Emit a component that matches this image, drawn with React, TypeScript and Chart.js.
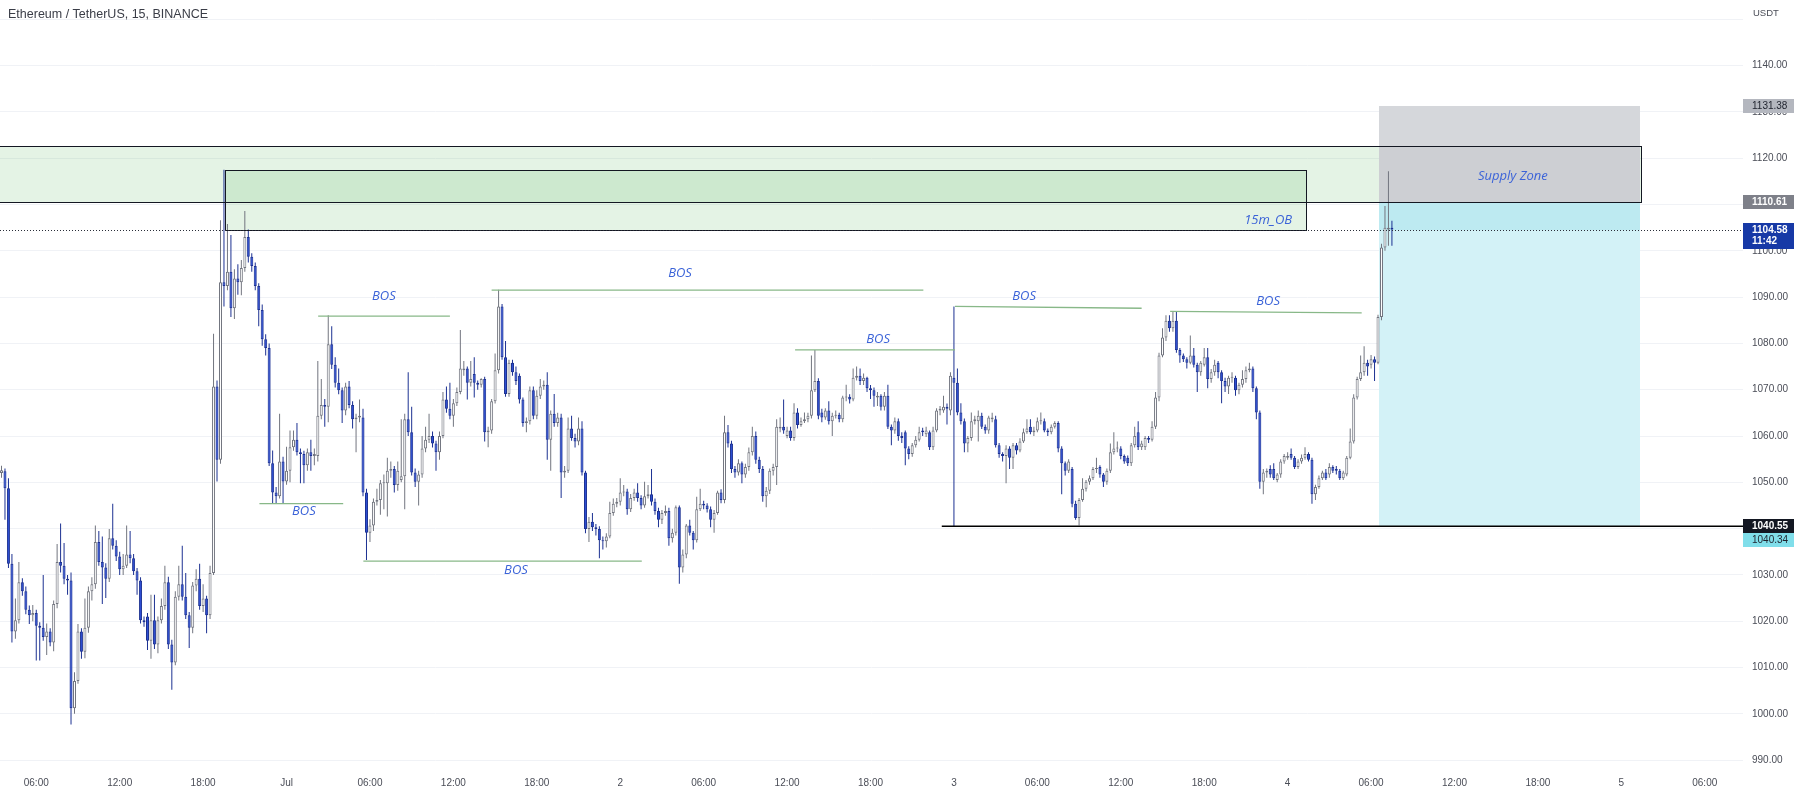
import React, { useEffect, useRef } from 'react';
import { Chart, registerables } from 'chart.js';

Chart.register(...registerables);

// ---------------- DATA (15m candles, ETH/USDT) ----------------
const opens = [
  1052.0, 1052.4, 1048.7, 1032.4, 1017.8, 1020.2, 1028.4, 1026.5, 1022.5, 1021.3,
  1021.8, 1019.0, 1018.6, 1016.6, 1017.8, 1015.4, 1023.7, 1032.8, 1032.0, 1029.2,
  1028.8, 1001.2, 1007.1, 1017.8, 1013.4, 1018.6, 1026.5, 1028.0, 1037.1, 1032.8,
  1031.6, 1029.2, 1037.9, 1036.3, 1034.0, 1031.2, 1032.0, 1034.4, 1033.6, 1030.8,
  1028.8, 1020.2, 1021.0, 1015.8, 1020.2, 1015.0, 1020.2, 1023.3, 1028.4, 1015.0,
  1011.1, 1025.3, 1028.0, 1025.3, 1021.3, 1018.6, 1027.7, 1029.2, 1023.3, 1024.9,
  1021.3, 1030.4, 1070.7, 1054.9, 1093.2, 1092.4, 1095.5, 1087.6, 1094.0, 1093.2,
  1096.3, 1103.0, 1098.7, 1096.7, 1092.4, 1087.2, 1080.9, 1079.0, 1054.1, 1047.8,
  1047.0, 1054.5, 1050.2, 1052.5, 1057.6, 1059.2, 1056.5, 1056.1, 1053.7, 1056.5,
  1055.7, 1055.7, 1064.4, 1066.7, 1066.3, 1079.8, 1075.4, 1071.5, 1069.9, 1065.5,
  1070.7, 1066.7, 1063.6, 1064.0, 1064.0, 1047.8, 1039.1, 1040.7, 1045.8, 1046.2,
  1049.8, 1049.8, 1052.5, 1052.9, 1049.4, 1050.5, 1051.3, 1063.6, 1060.8, 1052.1,
  1050.1, 1051.7, 1057.3, 1059.2, 1060.0, 1058.4, 1056.5, 1060.0, 1067.9, 1065.9,
  1064.4, 1067.1, 1069.5, 1074.2, 1074.6, 1071.5, 1073.4, 1071.5, 1071.1, 1072.3,
  1060.8, 1061.2, 1067.5, 1074.2, 1088.0, 1077.0, 1069.1, 1075.8, 1073.8, 1073.0,
  1067.9, 1062.8, 1063.2, 1069.9, 1064.4, 1068.7, 1070.7, 1071.1, 1059.2, 1064.8,
  1062.8, 1064.0, 1052.1, 1052.5, 1061.6, 1059.6, 1058.8, 1061.6, 1052.1, 1039.9,
  1041.5, 1040.3, 1039.9, 1037.5, 1037.3, 1038.3, 1043.4, 1045.4, 1045.8, 1047.8,
  1048.0, 1044.2, 1046.6, 1047.8, 1046.6, 1045.0, 1047.0, 1047.4, 1045.8, 1043.8,
  1041.9, 1043.4, 1043.8, 1037.9, 1039.1, 1044.6, 1031.6, 1034.4, 1040.7, 1039.1,
  1037.5, 1044.2, 1045.4, 1045.0, 1044.2, 1041.9, 1043.4, 1047.8, 1046.2, 1060.8,
  1058.4, 1052.9, 1052.1, 1054.1, 1051.7, 1053.3, 1056.5, 1060.0, 1054.9, 1052.9,
  1047.0, 1048.2, 1052.5, 1053.3, 1061.6, 1062.0, 1060.0, 1061.2, 1059.6, 1065.1,
  1062.4, 1063.2, 1063.6, 1064.4, 1069.9, 1071.9, 1065.1, 1064.0, 1065.5, 1063.2,
  1064.4, 1064.6, 1063.6, 1068.3, 1068.5, 1067.9, 1072.6, 1073.0, 1071.9, 1072.6,
  1070.3, 1069.9, 1068.3, 1068.7, 1066.3, 1068.7, 1062.0, 1061.2, 1063.2, 1060.0,
  1060.8, 1057.3, 1056.1, 1058.0, 1059.2, 1061.2, 1060.4, 1060.8, 1057.6, 1061.2,
  1065.5, 1065.5, 1066.3, 1065.5, 1072.6, 1071.5, 1065.1, 1063.2, 1058.4, 1059.6,
  1063.2, 1063.2, 1064.4, 1062.0, 1061.2, 1063.6, 1063.6, 1058.0, 1056.1, 1055.7,
  1057.3, 1055.3, 1058.0, 1056.9, 1058.8, 1060.8, 1062.0, 1060.8, 1061.2, 1063.2,
  1063.2, 1061.2, 1060.8, 1062.0, 1062.8, 1057.3, 1054.1, 1052.5, 1052.9, 1045.4,
  1042.3, 1046.2, 1048.6, 1050.1, 1050.9, 1052.9, 1053.3, 1051.7, 1050.1, 1052.5,
  1056.5, 1057.3, 1057.3, 1055.7, 1055.3, 1054.1, 1058.0, 1060.8, 1057.6, 1057.6,
  1059.6, 1059.2, 1062.0, 1068.3, 1077.4, 1081.3, 1084.9, 1083.3, 1084.9, 1078.6,
  1077.4, 1076.6, 1075.8, 1077.4, 1075.4, 1073.8, 1075.4, 1077.0, 1072.3, 1073.8,
  1075.8, 1073.8, 1071.9, 1070.7, 1072.6, 1072.6, 1069.9, 1071.1, 1072.3, 1074.2,
  1074.6, 1070.3, 1065.1, 1050.1, 1052.1, 1052.9, 1052.9, 1050.5, 1051.7, 1054.5,
  1055.3, 1056.1, 1055.3, 1053.3, 1054.5, 1055.3, 1056.1, 1054.9, 1047.4, 1049.0,
  1050.9, 1052.1, 1051.7, 1053.3, 1052.9, 1052.5, 1050.9, 1051.7, 1055.3, 1058.8,
  1068.3, 1072.3, 1073.8, 1075.8, 1075.4, 1076.6, 1075.8, 1085.7, 1100.7, 1104.6,
  1105.0,
];

const highs = [
  1053.6, 1053.0, 1050.9, 1034.5, 1024.9, 1032.8, 1029.3, 1027.5, 1023.4, 1023.5,
  1022.5, 1019.8, 1030.0, 1019.5, 1018.5, 1024.5, 1036.7, 1041.1, 1036.9, 1030.0,
  1030.5, 1009.0, 1019.4, 1018.5, 1024.9, 1027.5, 1029.5, 1040.7, 1039.5, 1038.3,
  1032.5, 1039.9, 1045.4, 1037.5, 1035.0, 1034.5, 1040.7, 1039.5, 1034.5, 1031.5,
  1029.5, 1021.0, 1021.8, 1025.7, 1025.7, 1021.0, 1024.9, 1032.0, 1029.6, 1016.0,
  1026.5, 1032.0, 1036.3, 1030.4, 1022.0, 1028.5, 1031.2, 1032.4, 1028.0, 1025.5,
  1032.0, 1082.1, 1072.0, 1106.6, 1117.5, 1105.8, 1103.4, 1096.0, 1097.1, 1098.0,
  1108.6, 1104.6, 1099.5, 1097.5, 1093.0, 1088.4, 1082.0, 1080.0, 1056.9, 1049.0,
  1064.8, 1055.5, 1057.7, 1061.2, 1061.2, 1062.8, 1057.3, 1056.8, 1057.3, 1059.2,
  1057.3, 1076.2, 1072.3, 1068.0, 1086.1, 1083.7, 1077.0, 1074.6, 1070.5, 1071.5,
  1071.9, 1067.5, 1064.8, 1067.9, 1065.9, 1048.6, 1042.0, 1046.5, 1048.6, 1050.5,
  1051.7, 1055.3, 1054.5, 1053.5, 1054.5, 1063.6, 1064.8, 1073.8, 1066.3, 1053.0,
  1052.5, 1060.0, 1062.0, 1064.8, 1061.0, 1059.0, 1061.0, 1069.5, 1070.7, 1071.5,
  1068.0, 1070.5, 1082.9, 1076.2, 1075.0, 1076.2, 1077.0, 1072.0, 1072.5, 1072.8,
  1062.0, 1068.0, 1077.8, 1091.6, 1088.5, 1080.5, 1076.5, 1076.5, 1075.0, 1073.5,
  1068.3, 1064.0, 1070.7, 1070.7, 1069.9, 1072.3, 1072.0, 1073.8, 1065.5, 1069.1,
  1065.0, 1064.8, 1053.5, 1064.0, 1064.4, 1060.5, 1064.0, 1063.2, 1052.5, 1042.5,
  1043.4, 1041.0, 1040.5, 1038.3, 1039.0, 1045.8, 1046.5, 1046.6, 1050.9, 1049.4,
  1048.6, 1047.5, 1048.6, 1049.8, 1047.2, 1050.1, 1049.4, 1052.9, 1046.5, 1044.5,
  1044.0, 1045.0, 1044.5, 1040.0, 1045.0, 1045.0, 1035.5, 1041.0, 1041.9, 1039.5,
  1046.9, 1048.6, 1046.0, 1045.5, 1044.8, 1044.0, 1048.2, 1048.5, 1064.4, 1062.4,
  1059.0, 1053.5, 1055.0, 1054.5, 1054.0, 1057.5, 1062.0, 1061.0, 1055.5, 1053.5,
  1049.0, 1053.0, 1054.0, 1063.6, 1064.0, 1067.9, 1062.0, 1062.0, 1067.1, 1066.0,
  1064.0, 1065.1, 1065.0, 1077.4, 1078.6, 1072.5, 1065.9, 1066.0, 1067.5, 1065.0,
  1065.5, 1065.0, 1068.7, 1071.1, 1069.0, 1074.6, 1075.0, 1074.6, 1073.5, 1072.8,
  1071.0, 1070.5, 1069.5, 1069.0, 1069.5, 1071.1, 1062.5, 1064.0, 1063.8, 1060.8,
  1061.2, 1057.8, 1058.5, 1060.0, 1062.0, 1061.8, 1062.0, 1061.2, 1062.0, 1066.0,
  1066.5, 1068.7, 1067.0, 1073.8, 1088.0, 1074.6, 1067.1, 1063.8, 1060.0, 1065.1,
  1064.4, 1065.5, 1065.0, 1062.5, 1064.4, 1065.0, 1064.4, 1058.5, 1056.5, 1058.0,
  1057.8, 1058.5, 1058.5, 1059.5, 1061.6, 1063.6, 1063.6, 1062.0, 1064.0, 1065.1,
  1063.8, 1061.6, 1062.5, 1063.2, 1063.2, 1057.8, 1054.5, 1055.0, 1053.3, 1046.0,
  1046.6, 1050.9, 1050.5, 1051.5, 1053.3, 1055.3, 1053.7, 1052.0, 1053.0, 1058.4,
  1060.8, 1058.8, 1057.8, 1056.0, 1055.8, 1058.5, 1062.0, 1063.2, 1059.0, 1060.0,
  1060.0, 1063.2, 1069.5, 1078.0, 1083.3, 1086.1, 1086.1, 1086.9, 1086.9, 1079.0,
  1077.8, 1077.0, 1081.7, 1079.0, 1075.8, 1076.2, 1079.0, 1079.0, 1074.5, 1076.5,
  1076.2, 1074.2, 1072.6, 1073.0, 1073.8, 1073.0, 1071.5, 1074.2, 1075.0, 1075.8,
  1075.0, 1070.7, 1065.5, 1052.9, 1053.0, 1053.7, 1054.1, 1052.0, 1055.0, 1056.1,
  1056.5, 1057.3, 1055.7, 1055.0, 1056.0, 1057.6, 1056.5, 1055.3, 1049.5, 1051.5,
  1052.5, 1052.9, 1054.1, 1053.7, 1053.5, 1052.9, 1052.5, 1055.7, 1061.6, 1069.0,
  1072.8, 1077.4, 1079.4, 1076.5, 1077.5, 1077.2, 1086.2, 1101.5, 1109.7, 1117.2,
  1106.5,
];

const lows = [
  1051.0, 1041.9, 1031.5, 1015.4, 1016.2, 1019.5, 1025.5, 1021.5, 1019.4, 1020.0,
  1011.5, 1011.5, 1015.8, 1012.7, 1014.6, 1013.5, 1022.8, 1030.5, 1028.0, 1025.7,
  997.7, 1000.0, 1006.5, 1011.9, 1012.0, 1017.5, 1024.5, 1027.0, 1032.0, 1023.7,
  1025.0, 1028.5, 1035.5, 1033.0, 1030.0, 1030.0, 1031.5, 1032.5, 1030.0, 1025.7,
  1019.5, 1018.8, 1013.8, 1011.9, 1014.0, 1013.1, 1019.5, 1022.5, 1014.0, 1005.2,
  1010.5, 1024.5, 1024.5, 1020.5, 1014.2, 1017.4, 1026.5, 1022.5, 1022.0, 1017.4,
  1020.5, 1030.0, 1050.2, 1054.0, 1088.0, 1091.5, 1085.7, 1085.3, 1090.5, 1090.4,
  1095.5, 1097.5, 1095.5, 1091.5, 1083.7, 1079.5, 1077.4, 1053.5, 1045.4, 1045.4,
  1046.5, 1045.4, 1049.5, 1050.0, 1056.8, 1055.8, 1049.8, 1049.8, 1052.5, 1052.5,
  1053.7, 1054.5, 1063.6, 1062.0, 1063.0, 1074.5, 1070.5, 1069.0, 1062.8, 1064.5,
  1066.0, 1061.6, 1056.5, 1063.0, 1047.0, 1033.2, 1037.1, 1039.5, 1045.0, 1043.0,
  1044.2, 1042.6, 1051.0, 1047.8, 1048.2, 1050.0, 1044.2, 1060.0, 1051.5, 1049.0,
  1045.0, 1051.0, 1056.5, 1058.5, 1057.5, 1052.5, 1054.9, 1059.5, 1065.0, 1063.6,
  1062.0, 1066.5, 1069.0, 1073.0, 1067.9, 1070.7, 1068.3, 1070.0, 1070.5, 1058.8,
  1057.6, 1060.5, 1067.0, 1073.5, 1076.5, 1068.5, 1068.5, 1073.0, 1071.0, 1067.0,
  1062.0, 1060.8, 1062.5, 1063.6, 1063.6, 1068.0, 1070.0, 1054.9, 1052.5, 1062.0,
  1062.0, 1046.6, 1051.0, 1052.0, 1059.0, 1057.5, 1058.0, 1051.5, 1039.0, 1037.1,
  1039.5, 1038.5, 1033.6, 1035.5, 1035.9, 1037.9, 1042.8, 1044.6, 1045.0, 1047.0,
  1043.0, 1043.6, 1046.0, 1045.8, 1044.2, 1044.5, 1046.5, 1045.0, 1043.0, 1040.3,
  1041.0, 1042.8, 1036.3, 1037.0, 1038.5, 1028.1, 1030.5, 1033.6, 1038.5, 1035.5,
  1037.0, 1043.8, 1044.2, 1043.5, 1040.3, 1039.1, 1043.0, 1045.5, 1045.5, 1057.5,
  1052.0, 1051.0, 1051.5, 1049.8, 1051.0, 1052.5, 1055.8, 1054.0, 1052.0, 1045.8,
  1044.6, 1047.5, 1051.5, 1049.4, 1060.8, 1060.5, 1059.5, 1059.0, 1059.0, 1061.6,
  1062.0, 1062.8, 1063.0, 1063.8, 1069.5, 1063.6, 1063.0, 1063.5, 1062.5, 1060.0,
  1063.8, 1063.0, 1063.0, 1067.5, 1067.0, 1067.5, 1072.0, 1071.0, 1071.0, 1069.5,
  1068.0, 1066.3, 1066.5, 1065.5, 1065.5, 1061.5, 1058.0, 1060.5, 1059.0, 1058.5,
  1053.7, 1055.0, 1055.5, 1057.5, 1058.8, 1060.0, 1059.8, 1057.0, 1057.0, 1060.8,
  1064.5, 1065.0, 1062.5, 1064.5, 1040.4, 1064.5, 1062.5, 1056.5, 1056.5, 1059.0,
  1062.5, 1058.8, 1061.5, 1060.5, 1060.5, 1063.0, 1057.5, 1055.3, 1054.5, 1049.8,
  1052.9, 1052.9, 1056.0, 1056.5, 1058.5, 1060.5, 1060.4, 1060.0, 1060.8, 1062.5,
  1060.8, 1060.0, 1060.4, 1061.6, 1056.5, 1047.4, 1051.5, 1052.0, 1044.6, 1041.9,
  1040.7, 1045.8, 1048.0, 1049.5, 1050.5, 1052.0, 1051.0, 1049.0, 1049.5, 1052.0,
  1056.0, 1056.5, 1055.0, 1054.0, 1053.5, 1053.5, 1057.5, 1057.0, 1057.0, 1057.0,
  1058.5, 1058.8, 1061.5, 1067.5, 1077.0, 1080.5, 1082.5, 1082.5, 1078.0, 1075.8,
  1076.0, 1074.6, 1075.5, 1074.8, 1069.5, 1073.0, 1075.0, 1070.3, 1071.5, 1073.0,
  1072.5, 1067.1, 1069.5, 1069.1, 1071.5, 1068.7, 1069.0, 1070.5, 1071.5, 1073.8,
  1069.5, 1063.6, 1048.6, 1047.4, 1051.0, 1051.0, 1050.5, 1050.0, 1051.0, 1054.0,
  1054.9, 1054.9, 1052.9, 1052.9, 1054.0, 1054.9, 1054.5, 1045.4, 1046.2, 1048.6,
  1050.5, 1050.5, 1051.0, 1052.0, 1051.7, 1050.5, 1050.5, 1051.3, 1055.0, 1058.4,
  1067.9, 1071.9, 1073.0, 1073.0, 1074.6, 1071.9, 1075.5, 1085.0, 1100.0, 1101.1,
  1101.1,
];

const closes = [
  1052.6, 1048.7, 1032.4, 1017.8, 1020.2, 1028.4, 1026.5, 1022.5, 1021.3, 1021.8,
  1019.0, 1018.6, 1016.6, 1017.8, 1015.4, 1023.7, 1032.8, 1032.0, 1029.2, 1028.8,
  1001.2, 1007.1, 1017.8, 1013.4, 1018.6, 1026.5, 1028.0, 1037.1, 1032.8, 1031.6,
  1029.2, 1037.9, 1036.3, 1034.0, 1031.2, 1032.0, 1034.4, 1033.6, 1030.8, 1028.8,
  1020.2, 1019.8, 1015.8, 1020.2, 1015.0, 1020.2, 1023.3, 1028.4, 1015.0, 1011.1,
  1025.3, 1028.0, 1025.3, 1021.3, 1018.6, 1027.7, 1029.2, 1023.3, 1024.9, 1021.3,
  1030.4, 1070.7, 1054.9, 1093.2, 1092.4, 1095.5, 1087.6, 1094.0, 1093.2, 1096.3,
  1103.0, 1098.7, 1096.7, 1092.4, 1087.2, 1080.9, 1079.0, 1054.1, 1047.8, 1047.0,
  1054.5, 1050.2, 1052.5, 1057.6, 1059.2, 1056.5, 1056.1, 1053.7, 1056.5, 1055.7,
  1056.1, 1064.4, 1066.7, 1066.3, 1079.8, 1075.4, 1071.5, 1069.9, 1065.5, 1070.7,
  1066.7, 1063.6, 1064.0, 1064.4, 1047.8, 1039.1, 1040.7, 1045.8, 1046.2, 1049.8,
  1050.0, 1052.5, 1052.9, 1049.4, 1052.5, 1051.3, 1063.6, 1060.8, 1052.1, 1050.1,
  1051.7, 1057.3, 1059.2, 1060.0, 1058.4, 1056.5, 1060.0, 1067.9, 1065.9, 1064.4,
  1067.1, 1069.5, 1074.6, 1074.6, 1071.5, 1072.3, 1071.5, 1071.1, 1072.3, 1060.8,
  1061.2, 1067.5, 1074.2, 1088.0, 1077.0, 1069.1, 1075.8, 1073.8, 1071.9, 1067.9,
  1062.8, 1063.2, 1069.9, 1064.4, 1068.7, 1070.7, 1071.1, 1059.2, 1064.8, 1062.8,
  1064.0, 1052.1, 1052.5, 1061.6, 1059.6, 1058.8, 1061.6, 1052.1, 1039.9, 1041.5,
  1040.3, 1039.9, 1037.5, 1037.3, 1038.3, 1043.4, 1045.4, 1045.8, 1047.8, 1048.0,
  1044.2, 1046.6, 1047.8, 1046.6, 1045.0, 1047.0, 1047.4, 1045.8, 1043.8, 1041.9,
  1043.4, 1043.8, 1037.9, 1039.1, 1044.6, 1031.6, 1034.4, 1040.7, 1039.1, 1037.5,
  1044.2, 1045.4, 1045.0, 1044.2, 1041.9, 1043.4, 1047.8, 1046.2, 1060.8, 1058.4,
  1052.9, 1052.1, 1054.1, 1051.7, 1053.3, 1056.5, 1060.0, 1054.9, 1052.9, 1047.0,
  1048.2, 1052.5, 1053.3, 1062.0, 1062.0, 1061.2, 1061.2, 1059.6, 1065.1, 1062.4,
  1063.2, 1063.6, 1064.4, 1069.9, 1071.9, 1064.4, 1064.0, 1065.5, 1063.2, 1064.4,
  1064.6, 1063.6, 1068.3, 1068.5, 1067.9, 1072.6, 1073.0, 1071.9, 1072.6, 1070.3,
  1069.9, 1068.7, 1068.7, 1066.3, 1068.7, 1062.0, 1061.2, 1063.2, 1060.0, 1059.6,
  1057.3, 1056.1, 1058.0, 1059.2, 1060.8, 1060.8, 1061.2, 1057.6, 1061.2, 1065.5,
  1065.9, 1066.3, 1065.9, 1073.0, 1071.5, 1065.1, 1063.2, 1058.4, 1059.6, 1063.2,
  1063.6, 1064.4, 1062.0, 1061.2, 1064.0, 1064.0, 1058.0, 1056.1, 1055.7, 1057.3,
  1055.3, 1058.0, 1056.9, 1058.8, 1060.8, 1061.6, 1060.8, 1061.2, 1063.2, 1063.4,
  1061.2, 1060.8, 1062.0, 1062.8, 1057.3, 1054.1, 1052.5, 1054.5, 1045.4, 1042.3,
  1046.2, 1048.6, 1050.1, 1050.9, 1052.9, 1053.1, 1051.7, 1050.1, 1052.5, 1056.5,
  1057.3, 1057.5, 1055.7, 1054.5, 1054.1, 1058.0, 1060.0, 1057.6, 1058.4, 1059.6,
  1059.2, 1062.0, 1068.3, 1077.4, 1081.3, 1084.9, 1083.3, 1084.9, 1078.6, 1077.4,
  1076.6, 1075.8, 1077.4, 1075.4, 1073.8, 1075.8, 1077.0, 1072.3, 1073.8, 1075.4,
  1073.8, 1071.9, 1070.7, 1072.6, 1072.8, 1069.9, 1071.1, 1072.3, 1074.2, 1074.6,
  1070.3, 1065.1, 1050.1, 1052.1, 1052.5, 1051.7, 1050.9, 1051.7, 1054.5, 1055.7,
  1055.7, 1055.3, 1053.3, 1054.5, 1055.3, 1056.1, 1054.9, 1047.4, 1049.0, 1050.9,
  1052.1, 1050.9, 1053.3, 1052.5, 1052.5, 1050.9, 1052.1, 1055.3, 1058.8, 1068.3,
  1072.3, 1073.8, 1075.8, 1075.0, 1076.6, 1075.8, 1085.7, 1100.7, 1105.0, 1105.0,
  1104.58,
];

// time axis (bar index of first label, bars per 6h label step)
const timeTickLabels = ['06:00', '12:00', '18:00', 'Jul', '06:00', '12:00', '18:00', '2', '06:00', '12:00', '18:00', '3', '06:00', '12:00', '18:00', '4', '06:00', '12:00', '18:00', '5', '06:00'];
const FIRST_TICK_BAR = 10;
const BARS_PER_TICK = 24;

// price axis
const priceTicks = [990, 1000, 1010, 1020, 1030, 1040, 1050, 1060, 1070, 1080, 1090, 1100, 1110, 1120, 1130, 1140, 1150];
const hiddenPriceTicks = [1150];

// drawings (bar index, price)
const demandZone = { from: -5, to: 471.6, low: 1110.61, high: 1122.7 };
const orderBlock = { from: 64.2, to: 375.3, low: 1104.6, high: 1117.5 };
const supplyZone = { from: 396.3, to: 471.4, low: 1110.61, high: 1131.38 };
const targetZone = { from: 396.3, to: 471.4, low: 1040.55, high: 1110.61 };
const lastPrice = 1104.58;
const countdown = '11:42';
const supportLine = { from: 270.5, price: 1040.55 };
const altPrice = 1040.34;

const bosFrom = [74.2, 91.1, 104.1, 141.0, 228.3, 274.3, 336.2];
const bosTo = [98.3, 129.0, 184.2, 265.2, 274.3, 328.0, 391.3];
const bosFromPrice = [1045.4, 1085.9, 1033.0, 1091.5, 1078.6, 1088.0, 1086.9];
const bosToPrice = [1045.4, 1085.9, 1033.0, 1091.5, 1078.6, 1087.6, 1086.6];
const bosTextBar = [87.0, 110.0, 148.0, 195.2, 252.2, 294.2, 364.4];
const bosTextPrice = [1043.7, 1090.2, 1031.1, 1095.2, 1080.9, 1090.2, 1089.0];

const obLabel = { bar: 364.4, price: 1106.6, text: '15m_OB' };
const supplyLabel = { bar: 434.8, price: 1116.0, text: 'Supply Zone' };

const TITLE = 'Ethereum / TetherUS, 15, BINANCE';
const CURRENCY = 'USDT';

// ---------------- RENDER ----------------
const W = 1797;
const H = 798;
const X_MIN = -0.4315;
const X_MAX = 501.0;
const Y_MIN = 987.87;
const Y_MAX = 1154.17;

const UP_FILL = '#ffffff';
const UP_LINE = '#72757f';
const DN_FILL = '#2f50d4';
const DN_LINE = '#1c3192';
const TEXT_BLUE = '#3b63d8';
const AXIS_TEXT = '#4a4d57';
const FONT = '"Liberation Sans", Arial, sans-serif';

const overlayPlugin = {
  id: 'tvOverlay',
  beforeDatasetsDraw(chart: any) {
    const { ctx, chartArea: ca, scales } = chart;
    const X = (v: number) => scales.x.getPixelForValue(v);
    const Y = (v: number) => scales.y.getPixelForValue(v);
    ctx.save();
    ctx.beginPath();
    ctx.rect(ca.left, ca.top, ca.right - ca.left, ca.bottom - ca.top);
    ctx.clip();
    const fill = (from: number, to: number, lo: number, hi: number, color: string) => {
      const x0 = Math.round(X(from));
      const x1 = Math.round(X(to));
      const y0 = Math.round(Y(hi));
      const y1 = Math.round(Y(lo));
      ctx.fillStyle = color;
      ctx.fillRect(x0, y0, x1 - x0, y1 - y0);
    };
    fill(demandZone.from, demandZone.to, demandZone.low, demandZone.high, 'rgba(76,175,80,0.15)');
    fill(orderBlock.from, orderBlock.to, orderBlock.low, orderBlock.high, 'rgba(76,175,80,0.15)');
    fill(supplyZone.from, supplyZone.to, supplyZone.low, supplyZone.high, '#d5d7db');
    fill(supplyZone.from, supplyZone.to, supplyZone.low, demandZone.high, 'rgba(60,64,80,0.05)');
    fill(targetZone.from, targetZone.to, targetZone.low, lastPrice, '#d3f2f7');
    fill(targetZone.from, targetZone.to, lastPrice, targetZone.high, '#bdeaf1');
    ctx.restore();
  },
  afterDatasetsDraw(chart: any) {
    const { ctx, chartArea: ca, scales } = chart;
    const X = (v: number) => scales.x.getPixelForValue(v);
    const Y = (v: number) => scales.y.getPixelForValue(v);
    const cr = (v: number) => Math.round(v) + 0.5;
    ctx.save();
    ctx.beginPath();
    ctx.rect(ca.left, ca.top, ca.right - ca.left, ca.bottom - ca.top);
    ctx.clip();

    // rectangle borders
    ctx.strokeStyle = '#131722';
    ctx.lineWidth = 1;
    const box = (z: any) => {
      const x0 = cr(X(z.from));
      const x1 = cr(X(z.to));
      const y0 = cr(Y(z.high));
      const y1 = cr(Y(z.low));
      ctx.strokeRect(x0, y0, x1 - x0, y1 - y0);
    };
    box(demandZone);
    box(orderBlock);

    // BOS lines
    ctx.strokeStyle = '#88b888';
    ctx.lineWidth = 1.3;
    for (let i = 0; i < bosFrom.length; i++) {
      ctx.beginPath();
      ctx.moveTo(X(bosFrom[i]), Y(bosFromPrice[i]));
      ctx.lineTo(X(bosTo[i]), Y(bosToPrice[i]));
      ctx.stroke();
    }

    // support line
    ctx.strokeStyle = '#000000';
    ctx.lineWidth = 1.5;
    ctx.beginPath();
    const sy = Math.round(Y(supportLine.price)) + 0.25;
    ctx.moveTo(X(supportLine.from), sy);
    ctx.lineTo(ca.right, sy);
    ctx.stroke();

    // last price dotted line
    ctx.strokeStyle = '#2a2e39';
    ctx.lineWidth = 1;
    ctx.setLineDash([1, 2]);
    ctx.beginPath();
    const ly = cr(Y(lastPrice));
    ctx.moveTo(ca.left, ly);
    ctx.lineTo(ca.right, ly);
    ctx.stroke();
    ctx.setLineDash([]);

    // texts
    ctx.fillStyle = TEXT_BLUE;
    ctx.font = 'italic 13px "Open Sans", "DejaVu Sans", sans-serif';
    ctx.textAlign = 'center';
    ctx.textBaseline = 'middle';
    for (let i = 0; i < bosTextBar.length; i++) {
      ctx.fillText('BOS', X(bosTextBar[i]), Y(bosTextPrice[i]));
    }
    ctx.fillText(obLabel.text, X(obLabel.bar), Y(obLabel.price));
    ctx.fillText(supplyLabel.text, X(supplyLabel.bar), Y(supplyLabel.price));
    ctx.restore();
  },
  afterDraw(chart: any) {
    const { ctx, chartArea: ca, scales } = chart;
    const Y = (v: number) => scales.y.getPixelForValue(v);
    ctx.save();
    // title
    ctx.font = '12.5px ' + FONT;
    ctx.fillStyle = '#3a3d47';
    ctx.textAlign = 'left';
    ctx.textBaseline = 'middle';
    ctx.fillText(TITLE, 8, 15);
    // currency
    ctx.font = '9.5px ' + FONT;
    ctx.fillStyle = AXIS_TEXT;
    ctx.fillText(CURRENCY, ca.right + 10, 13);

    const bx = ca.right;
    const bw = 51;
    const marker = (cy: number, lines: string[], bg: string, fg: string, bold: boolean) => {
      const hgt = lines.length === 1 ? 14 : 26;
      const top = Math.round(cy - 7);
      ctx.fillStyle = bg;
      ctx.fillRect(bx, top, bw, hgt);
      ctx.fillStyle = fg;
      ctx.font = (bold ? 'bold ' : '') + '10px ' + FONT;
      ctx.textBaseline = 'middle';
      ctx.textAlign = 'left';
      lines.forEach((t, k) => ctx.fillText(t, bx + 9, top + 7 + k * 11.5));
    };
    marker(Y(supplyZone.high), [supplyZone.high.toFixed(2)], '#b4b7bf', '#1e222d', false);
    marker(Y(supplyZone.low), [supplyZone.low.toFixed(2)], '#7e8089', '#ffffff', true);
    marker(Y(lastPrice), [lastPrice.toFixed(2), countdown], '#1739a6', '#ffffff', true);
    const sy = Y(supportLine.price);
    marker(sy, [supportLine.price.toFixed(2)], '#131722', '#ffffff', true);
    marker(sy + 14, [altPrice.toFixed(2)], '#80deea', '#1e222d', false);
    ctx.restore();
  },
};

export default function App() {
  const canvasRef = useRef<HTMLCanvasElement | null>(null);

  useEffect(() => {
    const canvas = canvasRef.current;
    if (!canvas) return;
    const n = opens.length;
    const bodyData: any[] = [];
    const wickData: any[] = [];
    const bodyFill: string[] = [];
    const bodyLine: string[] = [];
    const wickColor: string[] = [];
    for (let i = 0; i < n; i++) {
      const o = opens[i];
      const c = closes[i];
      const up = c >= o;
      bodyData.push({ x: i, y: [Math.min(o, c), Math.max(o, c)] });
      wickData.push({ x: i, y: [Math.min(lows[i], o, c), Math.max(highs[i], o, c)] });
      bodyFill.push(up ? UP_FILL : DN_FILL);
      bodyLine.push(up ? UP_LINE : DN_LINE);
      wickColor.push(up ? UP_LINE : DN_LINE);
    }

    const chart = new Chart(canvas, {
      type: 'bar',
      data: {
        datasets: [
          {
            label: 'body',
            data: bodyData,
            backgroundColor: bodyFill,
            borderColor: bodyLine,
            borderWidth: 1,
            borderSkipped: false,
            barThickness: 3,
            minBarLength: 1,
            inflateAmount: 0,
            grouped: false,
            order: 0,
          } as any,
          {
            label: 'wick',
            data: wickData,
            backgroundColor: wickColor,
            borderWidth: 0,
            barThickness: 1,
            minBarLength: 1,
            inflateAmount: 0,
            grouped: false,
            order: 1,
          } as any,
        ],
      },
      options: {
        responsive: false,
        devicePixelRatio: 1,
        animation: false,
        events: [],
        layout: { padding: 0 },
        plugins: { legend: { display: false }, tooltip: { enabled: false } },
        scales: {
          x: {
            type: 'linear',
            min: X_MIN,
            max: X_MAX,
            offset: false,
            grid: { display: false, drawTicks: false, offset: false },
            border: { display: false },
            ticks: {
              autoSkip: false,
              maxRotation: 0,
              minRotation: 0,
              padding: 7,
              color: AXIS_TEXT,
              font: { family: FONT, size: 10 },
              callback: (_v: any, idx: number) => timeTickLabels[idx] ?? '',
            },
            afterBuildTicks: (scale: any) => {
              scale.ticks = timeTickLabels.map((_, k) => ({ value: FIRST_TICK_BAR + k * BARS_PER_TICK }));
            },
            afterFit: (scale: any) => {
              scale.height = 28;
              scale.paddingLeft = 0;
              scale.paddingRight = 0;
            },
          } as any,
          y: {
            type: 'linear',
            position: 'right',
            min: Y_MIN,
            max: Y_MAX,
            grid: { color: '#f0f2f6', drawTicks: false, lineWidth: 1 },
            border: { display: false },
            ticks: {
              padding: 9,
              color: AXIS_TEXT,
              font: { family: FONT, size: 10 },
              callback: (v: any) => (hiddenPriceTicks.includes(Number(v)) ? '' : Number(v).toFixed(2)),
            },
            afterBuildTicks: (scale: any) => {
              scale.ticks = priceTicks.map((v) => ({ value: v }));
            },
            afterFit: (scale: any) => {
              scale.width = 54;
              scale.paddingTop = 0;
              scale.paddingBottom = 0;
            },
          } as any,
        },
      },
      plugins: [overlayPlugin],
    });
    return () => chart.destroy();
  }, []);

  return (
    <div style={{ position: 'fixed', left: 0, top: 0, width: W, height: H, background: '#ffffff' }}>
      <canvas ref={canvasRef} width={W} height={H} style={{ display: 'block', width: W, height: H }} />
    </div>
  );
}
